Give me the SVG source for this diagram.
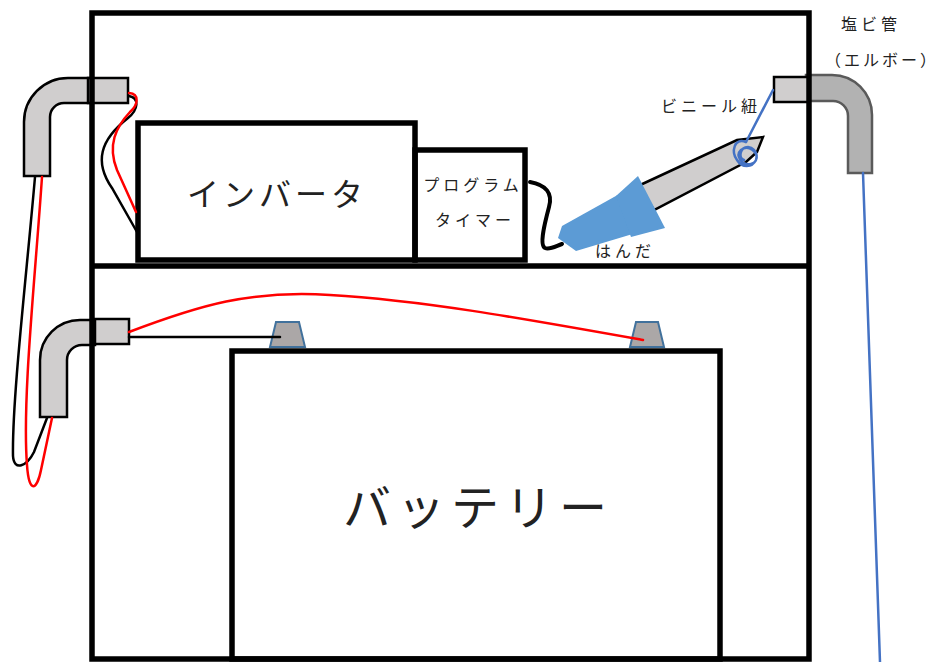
<svg xmlns="http://www.w3.org/2000/svg" width="938" height="662" viewBox="0 0 938 662">
  <defs>
    <style>
      .frame { fill: none; stroke: #000; stroke-width: 5.5; }
      .pipe { fill: #d0cece; stroke: #000; stroke-width: 2.5; stroke-linejoin: miter; }
      .pipe-outside { fill: #b2b2b2; stroke: #5a5a5a; stroke-width: 2.5; }
      .post { fill: #aba7a7; stroke: #41719c; stroke-width: 2; }
      .wire { fill: none; stroke-width: 2.5; stroke-linecap: round; }
      .red { stroke: #ff0000; }
      .blk { stroke: #000; }
      .blue { stroke: #4472c4; }
      .lbl { font-family: "Noto Sans CJK JP", "Noto Sans CJK SC", sans-serif; fill: #222; text-anchor: middle; }
      .s16 { font-size: 16px; letter-spacing: 4px; }
    </style>
    <filter id="soft" x="-10%" y="-10%" width="120%" height="120%">
      <feGaussianBlur stdDeviation="0.5"/>
    </filter>
  </defs>

  <rect width="938" height="662" fill="#fff"/>

  <!-- PVC elbows passing through the case wall -->
  <g id="elbow-upper-left">
    <path class="pipe" d="M 90,78 L 68,78 A 44 44 0 0 0 24,122 L 24,176 L 50,176 L 50,117 A 14 14 0 0 1 64,103 L 90,103 Z"/>
    <rect class="pipe" x="88" y="78" width="40" height="25"/>
  </g>
  <g id="elbow-lower-left">
    <path class="pipe" d="M 95,320 L 80,320 A 40 40 0 0 0 40,360 L 40,417 L 67,417 L 67,360 A 15 15 0 0 1 82,345 L 95,345 Z"/>
    <rect class="pipe" x="95" y="319" width="34" height="25"/>
  </g>
  <g id="elbow-right">
    <path class="pipe-outside" filter="url(#soft)" d="M 806,75 L 832,75 A 40 40 0 0 1 872,115 L 872,173 L 848,173 L 848,116 A 15 15 0 0 0 833,101 L 806,101 Z"/>
    <rect class="pipe" x="774" y="77" width="35" height="25"/>
  </g>

  <!-- case: outer walls and shelf -->
  <g id="case">
    <rect class="frame" x="92" y="13" width="717" height="646"/>
    <line class="frame" x1="92" y1="266" x2="809" y2="266"/>
  </g>

  <g id="inverter">
    <rect class="frame" x="138" y="123" width="277" height="137" fill="#fff"/>
    <text class="lbl" x="277" y="206" font-size="32" letter-spacing="4">インバータ</text>
  </g>

  <g id="timer">
    <rect class="frame" x="415" y="150" width="110" height="110" fill="#fff"/>
    <text class="lbl s16" x="473" y="191">プログラム</text>
    <text class="lbl s16" x="475" y="226">タイマー</text>
  </g>

  <g id="battery">
    <rect class="frame" x="232" y="351" width="488" height="308" fill="#fff"/>
    <text class="lbl" x="478" y="525" font-size="48" letter-spacing="6">バッテリー</text>
  </g>

  <g id="terminals">
    <polygon class="post" points="276,322 299,322 305,347 270,347"/>
    <polygon class="post" points="636,322 658,322 664,347 630,347"/>
  </g>

  <!-- soldering iron -->
  <g id="soldering-iron">
    <polygon fill="#d0cece" stroke="#000" stroke-width="2.5" stroke-linejoin="miter" points="638,186 737,140 763,137 757,152 746,162 654,210"/>
    <g fill="#5b9bd5" filter="url(#soft)">
      <polygon points="558,238 562,226 623,192 636,233 576,251"/>
      <polygon points="616,196 638,176 665,228 631,237"/>
    </g>
  </g>

  <!-- wiring -->
  <g id="connectors">
    <!-- wires from the upper elbow into the inverter -->
    <path class="wire blk" d="M 129,96 C 140,98 138,110 128,118 C 100,140 94,162 112,188 L 137,232"/>
    <path class="wire red" d="M 129,93 C 140,94 138,105 130,112 C 116,127 107,145 117,170 L 136,212"/>
    <!-- wires looping outside between the two elbows -->
    <path class="wire blk" d="M 35,177 C 26,280 12,400 13,456 C 14,472 27,466 34,452 L 47,418"/>
    <path class="wire red" d="M 42,177 C 35,280 22,400 27,465 C 29,495 37,490 41,470 L 52,418"/>
    <!-- battery leads -->
    <path class="wire blk" d="M 129,337 L 280,337"/>
    <path class="wire red" d="M 129,332 C 200,305 250,290 330,295 C 420,300 520,318 643,340"/>
    <!-- timer to soldering iron cord -->
    <path fill="none" stroke="#000" stroke-width="4" stroke-linecap="round" d="M 530,182 C 546,185 553,193 549,207 C 545,222 539,245 545,248 C 550,250 556,246 562,244"/>
    <!-- vinyl string tied to the iron -->
    <path class="wire blue" stroke-width="3" d="M 773,90 L 746,142"/>
    <path class="wire blue" stroke-width="3" d="M 746,142 C 734,137 731,152 737,160 C 742,168 752,168 756,160 C 759,152 748,144 741,150 C 735,156 742,166 751,164 C 760,162 758,148 748,147 C 740,147 738,158 744,160"/>
    <!-- string hanging from the outer elbow -->
    <path class="wire blue" stroke-width="3" d="M 863,173 L 880,662"/>
  </g>

  <g id="labels">
    <text class="lbl s16" x="871" y="30">塩ビ管</text>
    <text class="lbl" x="882" y="66" font-size="16" letter-spacing="3">（エルボー）</text>
    <text class="lbl s16" x="711" y="112">ビニール紐</text>
    <text class="lbl s16" x="625" y="257">はんだ</text>
  </g>
</svg>
